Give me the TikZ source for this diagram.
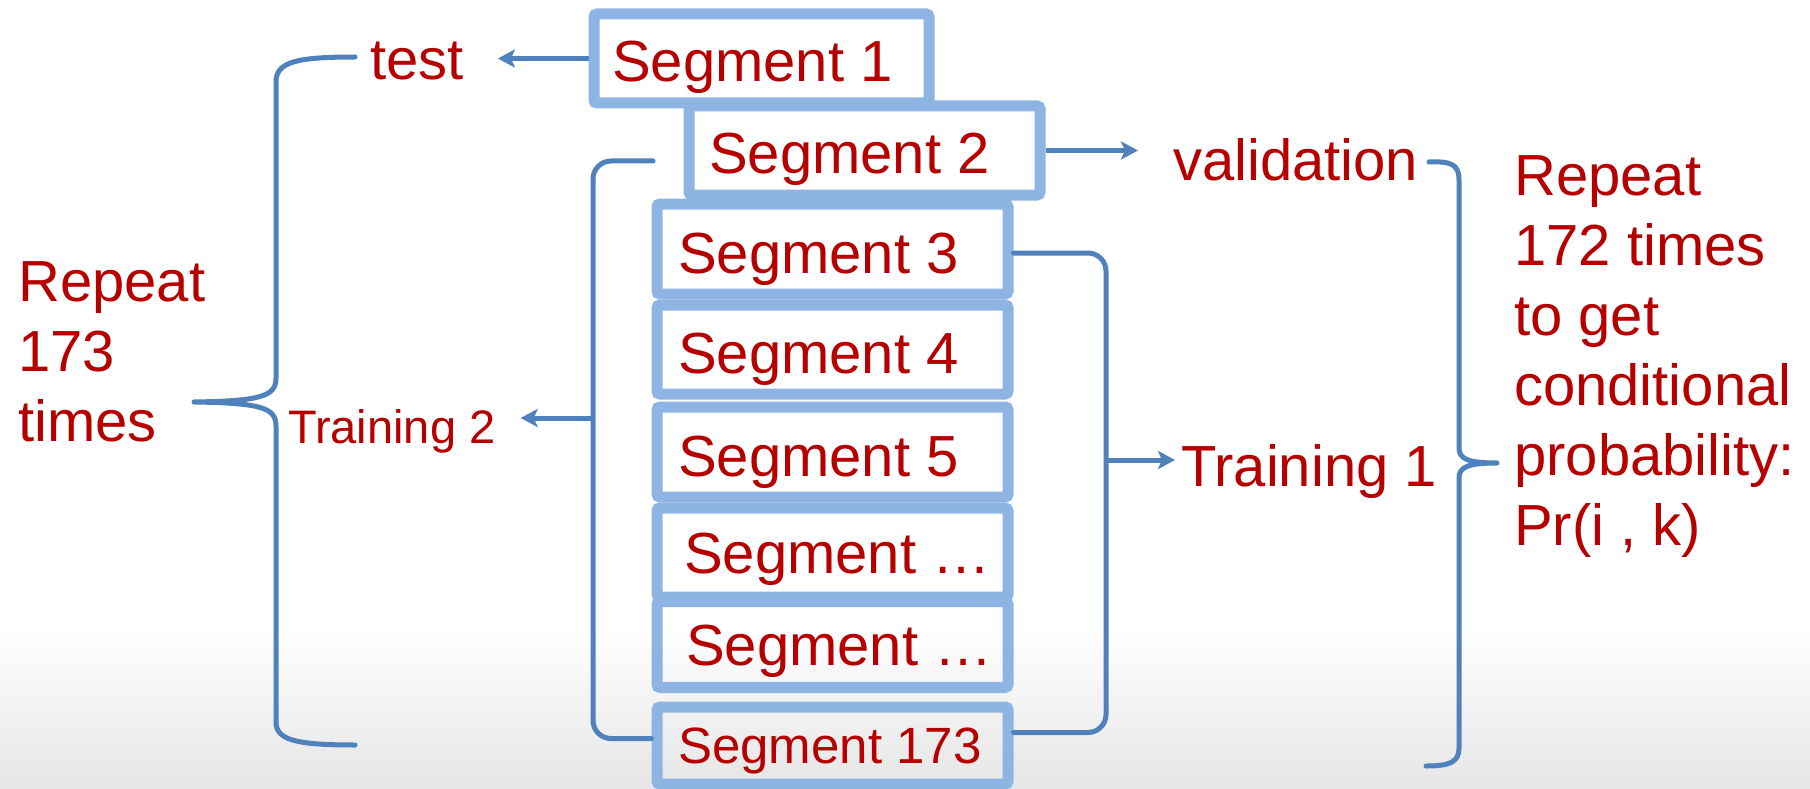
\documentclass[tikz,border=0pt]{standalone}
\usepackage{fontspec}
\setmainfont{Liberation Sans}
\usetikzlibrary{arrows.meta}
\definecolor{segblue}{RGB}{142,180,227}
\definecolor{linkblue}{RGB}{79,129,189}
\definecolor{labelred}{RGB}{182,0,0}
\begin{document}
\begin{tikzpicture}[x=1pt,y=-1pt,
  segbox/.style={draw=segblue, line width=11pt, rounded corners=3pt,
    inner sep=0pt, minimum width=351pt},
  bigfont/.style={font=\fontsize{58pt}{70pt}\selectfont},
  labeltext/.style={text=labelred, inner sep=0pt, bigfont},
  segtext/.style={labeltext, anchor=base west},
  link/.style={draw=linkblue, line width=5pt, line cap=round, line join=round},
  arrowlink/.style={link, line cap=butt,
    -{Stealth[length=17pt, width=18pt, inset=4pt]}}
]
% page and the soft grey fade at the foot
\useasboundingbox (0,0) rectangle (1810,789);
\fill[white] (0,0) rectangle (1810,789);
\shade[top color=white, bottom color=black!10] (0,625) rectangle (1810,789);

% segment boxes
\node[segbox, minimum width=335pt, minimum height=89pt] (s1) at (761.5,58.5) {};
\node[segbox, minimum height=89pt] (s2) at (864.5,150.5) {};
\node[segbox, minimum height=90pt] (s3) at (832.5,249) {};
\node[segbox, minimum height=89pt] (s4) at (832.5,349.5) {};
\node[segbox, minimum height=90pt] (s5) at (832.5,452) {};
\node[segbox, minimum height=89pt] (sa) at (832.5,552.5) {};
\node[segbox, minimum height=86pt] (sb) at (832.5,644.5) {};
\node[segbox, minimum height=77pt] (s173) at (832.5,745.5) {};

% segment labels
\node[segtext] (s1t) at (612,82) {Segment 1};
\node[segtext] (s2t) at (709,173) {Segment 2};
\node[segtext] (s3t) at (678,273) {Segment 3};
\node[segtext] (s4t) at (678,373) {Segment 4};
\node[segtext] (s5t) at (678,476) {Segment 5};
\node[segtext] (sat) at (684,573) {Segment …};
\node[segtext] (sbt) at (686,665) {Segment …};
\node[segtext, font=\fontsize{51pt}{61pt}\selectfont] (s173t) at (678,763) {Segment 173};

% role labels
\node[segtext] (test) at (370,80) {test};
\node[segtext] (val) at (1173,180) {validation};
\node[segtext] (tr1) at (1181,486) {Training 1};
\node[segtext, font=\fontsize{47pt}{56pt}\selectfont] (tr2) at (288,443) {Training 2};

% side notes
\node[labeltext, align=left, anchor=north west] (repl) at (18,261.5)
  {Repeat\\173\\times};
\node[labeltext, align=left, anchor=north west] (repr) at (1514,155.5)
  {Repeat\\172 times\\to get\\conditional\\probability:\\Pr(i , k)};

% arrows out of the first two segments
\draw[arrowlink, shorten >=34pt] (s1.west) -- (s1.west -| test.east);
\draw[arrowlink, shorten >=35pt] (s2.east) -- (s2.east -| val.west);

% bracket gathering segments 3..173 into Training 1
\coordinate (t1mid) at (1106,460);
\draw[link, rounded corners=18pt]
  ([yshift=-4pt]s3.east) -| (t1mid) |- ([yshift=13pt]s173.east);
\draw[arrowlink, shorten >=6pt] (t1mid) -- (t1mid -| tr1.west);

% bracket gathering segments 2..173 into Training 2
\coordinate (t2top) at (653,161);
\coordinate (t2mid) at (593,418);
\draw[link, rounded corners=18pt]
  (t2top) -| (t2mid) |- ([yshift=7pt]s173.west);
\draw[arrowlink, shorten >=25pt] (t2mid) -- (t2mid -| tr2.east);

% left curly brace: test + Training 2, repeated 173 times
\draw[link]
  (355,57) .. controls (296,57) and (276,62) .. (276,82)
  -- (276,378) .. controls (276,396) and (262,401) .. (194,402)
  .. controls (262,403) and (276,408) .. (276,426)
  -- (276,722) .. controls (276,740) and (296,745) .. (355,745);

% right curly brace: validation + Training 1, repeated 172 times
\draw[link]
  (1429,162) .. controls (1452,161) and (1459,165) .. (1459,180)
  -- (1459,448) .. controls (1459,459) and (1468,463) .. (1497,463)
  .. controls (1468,463) and (1459,467) .. (1459,478)
  -- (1459,748) .. controls (1459,762) and (1450,766) .. (1426,766);
\end{tikzpicture}
\end{document}
